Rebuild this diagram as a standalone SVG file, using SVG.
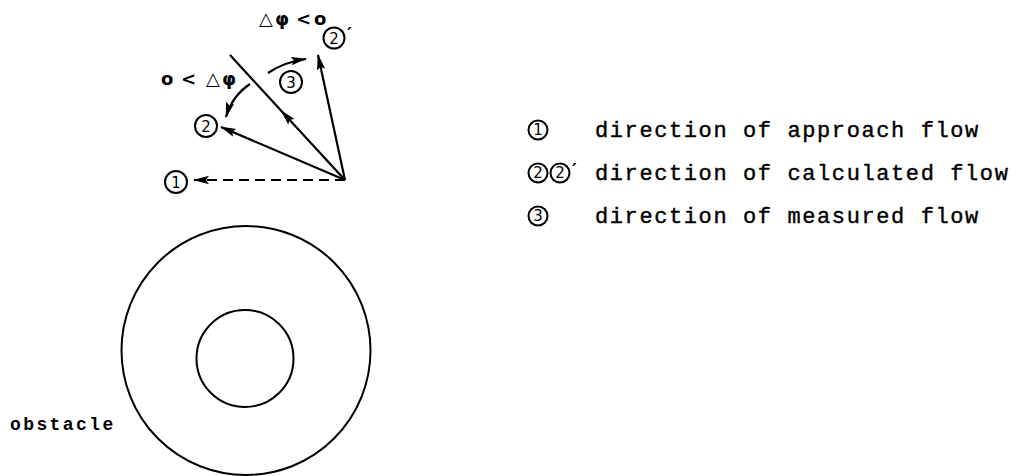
<svg xmlns="http://www.w3.org/2000/svg" width="1022" height="476" viewBox="0 0 1022 476">
<style>
.ln{stroke:#000;fill:none;stroke-width:2.2}
.cir{stroke:#000;fill:none;stroke-width:2}
.num{font-family:"DejaVu Sans",sans-serif;font-size:15px;text-anchor:middle;fill:#000}
.sym{font-family:"DejaVu Sans",sans-serif;font-size:18px;font-weight:bold;fill:#000}
.leg{font-family:"Liberation Mono",monospace;font-size:22px;letter-spacing:1.6px;fill:#000;stroke:#000;stroke-width:0.4}
.obs{font-family:"Liberation Mono",monospace;font-size:18px;font-weight:bold;letter-spacing:2.4px;fill:#000}
</style>
<defs>
<marker id="ah" markerUnits="userSpaceOnUse" markerWidth="16" markerHeight="10" refX="15" refY="5" orient="auto">
<path d="M0,0.8 L16,5 L0,9.2 L3,5 z" fill="#000"/>
</marker>
<marker id="ahm" markerUnits="userSpaceOnUse" markerWidth="16" markerHeight="10" refX="8" refY="5" orient="auto">
<path d="M0,0.8 L16,5 L0,9.2 L3,5 z" fill="#000"/>
</marker>
</defs>
<rect width="1022" height="476" fill="#fff"/>
<g id="connectors">
<line id="approach" class="ln" x1="345" y1="180" x2="194" y2="180" stroke-width="2.5" stroke-dasharray="10,6" marker-end="url(#ah)"/>
<line id="calc2" class="ln" x1="345" y1="180" x2="221" y2="127" marker-end="url(#ah)"/>
<line id="calc2p" class="ln" x1="345" y1="180" x2="318" y2="55" marker-end="url(#ah)"/>
<path id="measured" class="ln" d="M345,180 L286,116 L230,55" marker-mid="url(#ahm)"/>
<path id="arc-pos" class="ln" d="M250,84 Q232,96 226,117" marker-end="url(#ah)"/>
<path id="arc-neg" class="ln" d="M268,73 Q284,62 306,59" marker-end="url(#ah)"/>
</g>
<g id="n1"><circle class="cir" cx="176" cy="182" r="11"/><text class="num" x="176" y="187.5">1</text></g>
<g id="n2"><circle class="cir" cx="206" cy="126" r="11"/><text class="num" x="206" y="131.5">2</text></g>
<g id="n2p"><circle class="cir" cx="334" cy="38" r="10.5"/><text class="num" x="334" y="43.5">2</text><text class="sym" x="347" y="40">′</text></g>
<g id="n3"><circle class="cir" cx="291" cy="82" r="11"/><text class="num" x="291" y="87.5">3</text></g>
<g id="lbl-neg"><text class="sym" x="259 275 290 296 310 314" y="25">△φ &lt; o</text></g>
<g id="lbl-pos"><text class="sym" x="161 172 181 195 206 222" y="85">o &lt; △φ</text></g>
<g id="obstacle">
<circle class="cir" cx="246" cy="350.5" r="124.5"/>
<circle class="cir" cx="245" cy="358.5" r="48.5"/>
<text class="obs" x="10" y="430">obstacle</text>
</g>
<g id="legend">
<circle class="cir" cx="538" cy="130" r="9.5"/><text class="num" x="538" y="135">1</text>
<text class="leg" x="595" y="137">direction of approach flow</text>
<circle class="cir" cx="538" cy="173" r="9.5"/><text class="num" x="538" y="178">2</text>
<circle class="cir" cx="560" cy="173" r="9.5"/><text class="num" x="560" y="178">2</text><text class="sym" x="572" y="176">′</text>
<text class="leg" x="595" y="180">direction of calculated flow</text>
<circle class="cir" cx="538" cy="216" r="9.5"/><text class="num" x="538" y="221">3</text>
<text class="leg" x="595" y="223">direction of measured flow</text>
</g>
</svg>
